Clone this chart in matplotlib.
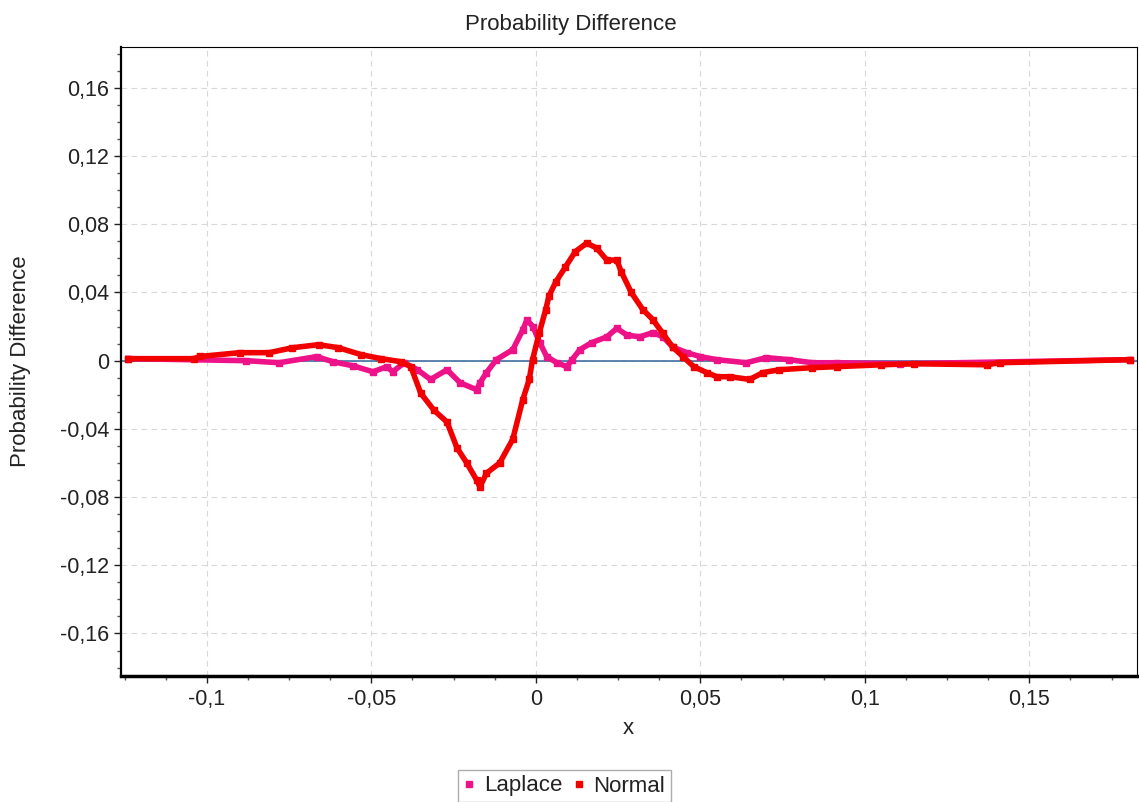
import numpy as np
import matplotlib
matplotlib.use("Agg")
import matplotlib.pyplot as plt
from matplotlib.ticker import MultipleLocator, FuncFormatter

# values
normal_x = [-0.124, -0.104, -0.102, -0.090, -0.081, -0.074, -0.066, -0.060, -0.053,
            -0.047, -0.041, -0.038, -0.035, -0.031, -0.027, -0.024, -0.021, -0.018,
            -0.017, -0.015, -0.011, -0.007, -0.004, -0.002, -0.001, 0.001, 0.003,
            0.004, 0.006, 0.009, 0.012, 0.0155, 0.0185, 0.0216, 0.0246, 0.026, 0.029,
            0.0325, 0.0356, 0.0386, 0.0416, 0.0447, 0.048, 0.052, 0.055, 0.059, 0.065,
            0.069, 0.074, 0.084, 0.0915, 0.105, 0.115, 0.137, 0.141, 0.1805]
normal_y = [0.0012, 0.0012, 0.0025, 0.0047, 0.0047, 0.0076, 0.0094, 0.0076, 0.0035,
            0.0012, -0.0006, -0.0035, -0.019, -0.029, -0.036, -0.051, -0.060, -0.070,
            -0.074, -0.066, -0.060, -0.046, -0.023, -0.011, 0.0006, 0.016, 0.030,
            0.038, 0.046, 0.055, 0.064, 0.069, 0.066, 0.059, 0.059, 0.052, 0.040,
            0.030, 0.024, 0.016, 0.008, 0.0024, -0.0035, -0.007, -0.0094, -0.0094, -0.011,
            -0.007, -0.0053, -0.0041, -0.0035, -0.0024, -0.0018, -0.0024, -0.0012, 0.0006]

laplace_x = [-0.124, -0.088, -0.078, -0.0666, -0.0617, -0.0556, -0.0495, -0.0453,
             -0.0435, -0.040, -0.036, -0.032, -0.027, -0.023, -0.018, -0.017, -0.015,
             -0.012, -0.007, -0.004, -0.0027, -0.0009, 0.0012, 0.0033, 0.0064, 0.0094,
             0.011, 0.0134, 0.017, 0.0216, 0.0246, 0.0277, 0.0316, 0.0356, 0.0386,
             0.0416, 0.0459, 0.050, 0.055, 0.064, 0.070, 0.077, 0.084, 0.0915, 0.1106,
             0.1805]
laplace_y = [0.0012, 0.0, -0.0012, 0.0024, -0.0006, -0.003, -0.0065, -0.0035,
             -0.0065, -0.0012, -0.0053, -0.011, -0.0053, -0.013, -0.017, -0.013, -0.007,
             0.0006, 0.0065, 0.018, 0.024, 0.020, 0.0106, 0.0024, -0.0012, -0.0035,
             0.0006, 0.0065, 0.0106, 0.014, 0.019, 0.015, 0.014, 0.0165, 0.014,
             0.008, 0.0047, 0.0024, 0.0006, -0.0012, 0.0018, 0.0006, -0.0012, -0.0012, -0.0018,
             0.0006]

plt.rcParams['font.family'] = ['Liberation Sans', 'DejaVu Sans']

fig = plt.figure(figsize=(11.39, 8.02), dpi=100)
ax = fig.add_axes([0.1062, 0.157, 0.892, 0.7844])

ax.axhline(0, color='#3f6f9f', lw=1.2, zorder=1)
ax.plot(laplace_x, laplace_y, color='#ee1289', lw=4, marker='s', ms=4,
        label='Laplace', zorder=3)
ax.plot(normal_x, normal_y, color='#f20000', lw=4, marker='s', ms=4,
        label='Normal', zorder=4)

ax.set_xlim(-0.1261, 0.1827)
ax.set_ylim(-0.185, 0.184)

ax.xaxis.set_major_locator(MultipleLocator(0.05))
ax.xaxis.set_minor_locator(MultipleLocator(0.0125))
ax.yaxis.set_major_locator(MultipleLocator(0.04))
ax.yaxis.set_minor_locator(MultipleLocator(0.01))

def comma(v, pos):
    if abs(v) < 1e-9:
        return '0'
    return ('%g' % round(v, 4)).replace('.', ',')

ax.xaxis.set_major_formatter(FuncFormatter(comma))
ax.yaxis.set_major_formatter(FuncFormatter(comma))
ax.tick_params(which='major', length=5, width=1, labelsize=15.5, colors='#222222')
ax.tick_params(axis='x', which='major', pad=4)
ax.tick_params(which='minor', length=3, width=1, color='#555555')

ax.grid(True, which='major', ls=(0, (5, 4)), color='#d8d8d8', lw=0.8)
ax.set_axisbelow(True)

for s in ['top', 'right']:
    ax.spines[s].set_linewidth(0.8)
ax.spines['left'].set_linewidth(1.6)
ax.spines['bottom'].set_linewidth(2.5)

ax.set_xlabel('x', fontsize=16, color='#222222')
ax.set_ylabel('Probability Difference', fontsize=16, color='#222222')
ax.xaxis.set_label_coords(0.499, -0.083)
ax.yaxis.set_label_coords(-0.099, 0.5)
ax.xaxis.label.set_va('center')
ax.yaxis.label.set_va('center')
fig.text(0.501, 0.969, 'Probability Difference', ha='center', va='center',
         fontsize=16, color='#222222')

leg = fig.legend(loc='center', bbox_to_anchor=(0.4956, 1 - 786 / 802), ncol=2,
                 fontsize=16, frameon=True, fancybox=False, handlelength=0.5,
                 handletextpad=0.4, columnspacing=0.5, borderpad=0.25)
leg.get_frame().set_edgecolor('#999999')
for t in leg.get_texts():
    t.set_color('#222222')
for h in leg.legend_handles:
    h.set_linestyle('None')
    h.set_markersize(4)

fig.savefig('out.png', dpi=100)
